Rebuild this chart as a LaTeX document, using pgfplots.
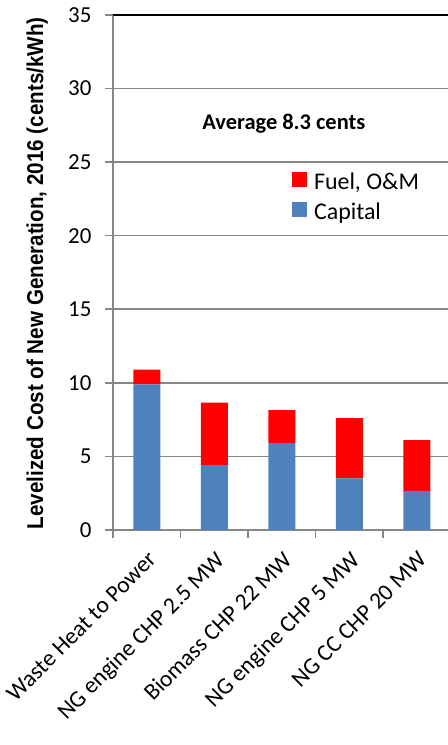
\documentclass[border=0pt]{standalone}
\usepackage{fontspec}
\setmainfont{Carlito}
\newfontfamily\narrowfont[FakeStretch=0.90]{Liberation Sans}
\usepackage{pgfplots}
\pgfplotsset{compat=1.18}
\definecolor{capblue}{HTML}{4F81BD}
\definecolor{fuelred}{HTML}{FF0000}
\definecolor{axgray}{HTML}{878787}
\begin{document}
\begin{tikzpicture}
\begin{axis}[
    scale only axis,
    width=335bp, height=515bp,
    ybar stacked,
    bar width=27bp,
    xmin=-0.5, xmax=4.46,
    ymin=0, ymax=35,
    axis x line*=bottom,
    axis y line*=left,
    axis line style={axgray, line width=1.6pt},
    /pgf/number format/assume math mode=true,
    xtick={0,1,2,3,4},
    xticklabels={Waste Heat to Power, NG engine CHP 2.5 MW, Biomass CHP 22 MW, NG engine CHP 5 MW, NG CC CHP 20 MW},
    major x tick style={draw=none},
    minor xtick={-0.5,0.5,1.5,2.5,3.5},
    minor x tick style={axgray, line width=1.6pt},
    minor tick length=8bp,
    xticklabel style={yshift=-12bp, rotate=45, anchor=north east, font=\fontsize{23.5}{28}\selectfont, inner sep=0pt},
    ytick={0,5,...,35},
    extra y ticks={35},
    extra y tick labels={},
    extra y tick style={grid style={black, line width=2.2pt}, major tick length=0pt},
    ymajorgrids,
    grid style={axgray, line width=1.6pt},
    tick align=outside,
    major tick length=8bp,
    y tick style={axgray, line width=1.6pt},
    yticklabel style={font=\fontsize{23}{26}\selectfont, xshift=-10bp},
    ylabel={\narrowfont\bfseries Levelized Cost of New Generation, 2016 (cents/kWh)},
    ylabel style={at={(axis description cs:-0.226,0.4985)}, anchor=center, font=\fontsize{23}{26}\selectfont},
    legend style={at={(axis description cs:0.534,0.697)}, anchor=north west, draw=none, fill=none,
        font=\fontsize{24}{28}\selectfont, row sep=8bp, column sep=5bp, inner sep=0pt},
    legend cell align=left,
    reverse legend,
    legend image code/.code={\fill[#1] (0bp,-5bp) rectangle (15bp,10bp);},
]
\addplot+[ybar, draw=none, fill=capblue] coordinates {(0,9.9) (1,4.4) (2,5.9) (3,3.5) (4,2.65)};
\addplot+[ybar, draw=none, fill=fuelred] coordinates {(0,1.0) (1,4.25) (2,2.25) (3,4.1) (4,3.45)};
\legend{Capital, {Fuel, O\&M}}
\node[font=\bfseries\fontsize{22.5}{26}\selectfont] at (axis cs:2.03,27.6) {Average 8.3 cents};
\coordinate (tl) at (axis description cs:-0.3373,1.0291);
\coordinate (br) at (axis description cs:1,-0.4175);
\end{axis}
\pgfresetboundingbox
\path (tl) rectangle (br);
\end{tikzpicture}
\end{document}
